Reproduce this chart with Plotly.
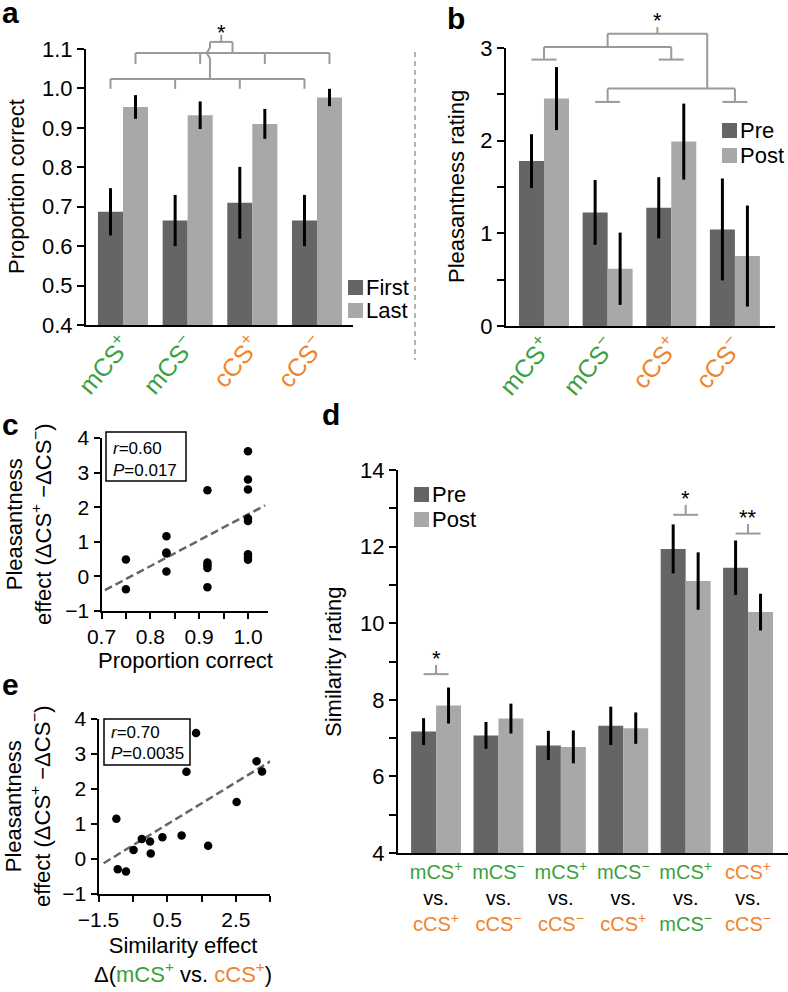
import plotly.graph_objects as go

W, H = 788, 992
FONT = "Liberation Sans, Arial, sans-serif"
DARK = "#656565"
LIGHT = "#a8a8a8"
GRAY = "#9a9a9a"
GREEN = "#3b9f3f"
ORANGE = "#f0832b"

# ---------------- data ----------------
a_cats = ["mCS+", "mCS-", "cCS+", "cCS-"]
a_first = [0.687, 0.665, 0.710, 0.665]
a_first_err = [0.060, 0.065, 0.091, 0.065]
a_last = [0.953, 0.932, 0.910, 0.977]
a_last_err = [0.030, 0.035, 0.038, 0.022]

b_pre = [1.78, 1.225, 1.276, 1.042]
b_pre_err = [0.29, 0.35, 0.33, 0.55]
b_post = [2.454, 0.618, 1.99, 0.755]
b_post_err = [0.34, 0.39, 0.41, 0.545]

c_x = [0.75, 0.75, 0.833, 0.833, 0.833, 0.833, 0.917, 0.917, 0.917, 0.917, 0.917,
       1.0, 1.0, 1.0, 1.0, 1.0, 1.0, 1.0, 1.0]
c_y = [0.49, -0.37, 1.16, 0.69, 0.66, 0.14, 2.49, 0.40, 0.32, 0.24, -0.31,
       3.62, 2.80, 2.51, 1.67, 1.60, 0.64, 0.56, 0.48]
c_fit_slope, c_fit_intercept = 7.47, -5.68
c_fit_span = [0.707, 1.035]

d_pre = [7.17, 7.07, 6.81, 7.32, 11.94, 11.45]
d_pre_err = [0.35, 0.35, 0.38, 0.50, 0.64, 0.71]
d_post = [7.85, 7.51, 6.77, 7.26, 11.10, 10.29]
d_post_err = [0.47, 0.39, 0.43, 0.41, 0.75, 0.48]

e_x = [-0.98, -0.94, -0.70, -0.48, -0.24, 0.0, 0.02, 0.36, 0.92, 1.06, 1.34, 1.69, 2.52, 3.10, 3.26]
e_y = [1.15, -0.29, -0.36, 0.26, 0.57, 0.50, 0.16, 0.62, 0.67, 2.49, 3.60, 0.38, 1.63, 2.79, 2.50]
e_fit_slope, e_fit_intercept = 0.60, 0.69
e_fit_span = [-1.35, 3.5]

# ---------------- helpers ----------------
def px(x):
    return x / W

def py(y):
    return 1 - y / H

def sp(color, txt):
    return f"<span style='color:{color}'>{txt}</span>"

def cs(prefix, sign, color):
    s = "+" if sign == "+" else "\u2212"
    return sp(color, f"{prefix}CS<sup>{s}</sup>")

tick_ab = [cs("m", "+", GREEN), cs("m", "-", GREEN), cs("c", "+", ORANGE), cs("c", "-", ORANGE)]
tick_d = [
    cs("m", "+", GREEN) + "<br>vs.<br>" + cs("c", "+", ORANGE),
    cs("m", "-", GREEN) + "<br>vs.<br>" + cs("c", "-", ORANGE),
    cs("m", "+", GREEN) + "<br>vs.<br>" + cs("c", "-", ORANGE),
    cs("m", "-", GREEN) + "<br>vs.<br>" + cs("c", "+", ORANGE),
    cs("m", "+", GREEN) + "<br>vs.<br>" + cs("m", "-", GREEN),
    cs("c", "+", ORANGE) + "<br>vs.<br>" + cs("c", "-", ORANGE),
]

fig = go.Figure()

def bars(xax, yax, vals, errs, color, w, first):
    fig.add_trace(go.Bar(
        x=list(range(len(vals))), y=vals, width=w, offset=-w if first else 0,
        marker=dict(color=color, line=dict(width=0)),
        error_y=dict(type="data", array=errs, color="black", thickness=3, width=0),
        xaxis=xax, yaxis=yax, showlegend=False, hoverinfo="skip"))

wa, wb, wd = 0.387, 0.393, 0.40
bars("x", "y", a_first, a_first_err, DARK, wa, True)
bars("x", "y", a_last, a_last_err, LIGHT, wa, False)
bars("x2", "y2", b_pre, b_pre_err, DARK, wb, True)
bars("x2", "y2", b_post, b_post_err, LIGHT, wb, False)
bars("x4", "y4", d_pre, d_pre_err, DARK, wd, True)
bars("x4", "y4", d_post, d_post_err, LIGHT, wd, False)

# scatter c
fig.add_trace(go.Scatter(x=c_fit_span, y=[c_fit_intercept + c_fit_slope * v for v in c_fit_span],
                         mode="lines", line=dict(color="#666666", width=2.5, dash="8px,4px"),
                         xaxis="x3", yaxis="y3", showlegend=False, hoverinfo="skip"))
fig.add_trace(go.Scatter(x=c_x, y=c_y, mode="markers", marker=dict(color="black", size=8.5),
                         xaxis="x3", yaxis="y3", showlegend=False, cliponaxis=False))
# scatter e
fig.add_trace(go.Scatter(x=e_fit_span, y=[e_fit_intercept + e_fit_slope * v for v in e_fit_span],
                         mode="lines", line=dict(color="#666666", width=2.5, dash="8px,4px"),
                         xaxis="x5", yaxis="y5", showlegend=False, hoverinfo="skip"))
fig.add_trace(go.Scatter(x=e_x, y=e_y, mode="markers", marker=dict(color="black", size=8.5),
                         xaxis="x5", yaxis="y5", showlegend=False, cliponaxis=False))

axfont = dict(family=FONT, size=22, color="black")
base_ax = dict(showline=True, linecolor="black", linewidth=2, showgrid=False, zeroline=False,
               tickfont=axfont, tickcolor="black", tickwidth=2, ticklen=7, automargin=False)
rot_font = dict(family=FONT, size=25, color="black")
sfont = dict(family=FONT, size=21, color="black")

def minor(vals, ln=7):
    return dict(tickmode="array", tickvals=vals, ticks="outside", ticklen=ln, tickwidth=2,
                tickcolor="black", showgrid=False)

A_RANGE = [0.4, 1.1]
B_RANGE = [0, 3]
D_RANGE = [4, 14]

fig.update_layout(
    template="none",
    width=W, height=H, margin=dict(l=0, r=0, t=0, b=0, autoexpand=False),
    paper_bgcolor="white", plot_bgcolor="rgba(0,0,0,0)",
    barmode="overlay", font=dict(family=FONT, color="black"),
    xaxis=dict(base_ax, domain=[px(86), px(353)], range=[-0.572, 3.557], anchor="y",
               tickvals=[0, 1, 2, 3], ticktext=tick_ab, tickangle=-50, ticks="",
               tickfont=rot_font, ticklabelstandoff=-7),
    yaxis=dict(base_ax, domain=[py(325), py(49)], range=A_RANGE, anchor="x",
               tickvals=[0.4, 0.5, 0.6, 0.7, 0.8, 0.9, 1.0, 1.1],
               ticktext=["0.4", "0.5", "0.6", "0.7", "0.8", "0.9", "1.0", "1.1"], ticks="outside"),
    xaxis2=dict(base_ax, domain=[px(506), px(775)], range=[-0.597, 3.63], anchor="y2",
                tickvals=[0, 1, 2, 3], ticktext=tick_ab, tickangle=-50, ticks="",
                tickfont=rot_font, ticklabelstandoff=-7),
    yaxis2=dict(base_ax, domain=[py(326), py(48)], range=B_RANGE, anchor="x2",
                tickvals=[0, 1, 2, 3], ticktext=["0", "1", "2", "3"], ticks="outside",
                minor=minor([0.5, 1.5, 2.5])),
    xaxis3=dict(base_ax, domain=[px(101.5), px(268)], range=[0.7, 1.041], anchor="y3",
                tickvals=[0.7, 0.8, 0.9, 1.0], ticktext=["0.7", "0.8", "0.9", "1.0"],
                ticks="outside", ticklen=6, tickfont=sfont, minor=minor([0.75, 0.85, 0.95], 6)),
    yaxis3=dict(base_ax, domain=[py(611), py(438)], range=[-1, 4], anchor="x3",
                tickvals=[-1, 0, 1, 2, 3, 4], ticktext=["\u22121", "0", "1", "2", "3", "4"],
                ticks="outside", ticklen=6, tickfont=sfont),
    xaxis4=dict(base_ax, domain=[px(398), 1.0], range=[-0.61, 5.64], anchor="y4",
                tickvals=[0, 1, 2, 3, 4, 5], ticktext=tick_d, ticks="",
                tickfont=dict(family=FONT, size=20, color="black")),
    yaxis4=dict(base_ax, domain=[py(853), py(470)], range=D_RANGE, anchor="x4",
                tickvals=[4, 6, 8, 10, 12, 14], ticktext=["4", "6", "8", "10", "12", "14"],
                ticks="outside", minor=minor([5, 7, 9, 11, 13])),
    xaxis5=dict(base_ax, domain=[px(98.5), px(270.3)], range=[-1.5, 3.5], anchor="y5",
                tickvals=[-1.5, 0.5, 2.5], ticktext=["\u22121.5", "0.5", "2.5"],
                ticks="outside", ticklen=6, tickfont=sfont, minor=minor([-0.5, 1.5, 3.5], 6)),
    yaxis5=dict(base_ax, domain=[py(894), py(719)], range=[-1, 4], anchor="x5",
                tickvals=[-1, 0, 1, 2, 3, 4], ticktext=["\u22121", "0", "1", "2", "3", "4"],
                ticks="outside", ticklen=6, tickfont=sfont),
)

shapes = []
annots = []

def yd(v, rng):
    return (v - rng[0]) / (rng[1] - rng[0])

def line(xax, yax, rng, x0, y0, x1, y1, color=GRAY, width=2):
    shapes.append(dict(type="line", xref=xax, yref=f"{yax} domain",
                       x0=x0, x1=x1, y0=yd(y0, rng), y1=yd(y1, rng),
                       line=dict(color=color, width=width)))

def star(xax, yax, rng, x, y, txt="*"):
    annots.append(dict(xref=xax, yref=f"{yax} domain", x=x, y=yd(y, rng), text=txt,
                       showarrow=False, font=dict(family=FONT, size=22, color="black"),
                       xanchor="center", yanchor="middle"))

# ---- panel a brackets ----
hw = wa / 2
dark_c = [i - hw for i in range(4)]
light_c = [i + hw for i in range(4)]
line("x", "y", A_RANGE, dark_c[0], 1.024, dark_c[3], 1.024)
for xc in dark_c:
    line("x", "y", A_RANGE, xc, 1.024, xc, 0.999)
line("x", "y", A_RANGE, light_c[0], 1.09, light_c[3], 1.09)
for xc in light_c:
    line("x", "y", A_RANGE, xc, 1.09, xc, 1.062)
lc = 1.345
uc = (light_c[0] + light_c[3]) / 2
path = (f"M {lc},{yd(1.024, A_RANGE)} L {lc},{yd(1.076, A_RANGE)} "
        f"L {lc - 0.05},{yd(1.09, A_RANGE)} L {lc},{yd(1.104, A_RANGE)} L {lc},{yd(1.118, A_RANGE)}")
shapes.append(dict(type="path", xref="x", yref="y domain", path=path, line=dict(color=GRAY, width=2)))
line("x", "y", A_RANGE, uc, 1.09, uc, 1.118)
line("x", "y", A_RANGE, lc, 1.118, uc, 1.118)
mid_a = (lc + uc) / 2
line("x", "y", A_RANGE, mid_a, 1.118, mid_a, 1.136)
star("x", "y", A_RANGE, mid_a, 1.143)

# ---- panel b brackets ----
hb = wb / 2
for g in (0, 2):
    line("x2", "y2", B_RANGE, g - hb, 2.875, g + hb, 2.875)
    line("x2", "y2", B_RANGE, g, 2.875, g, 3.01)
line("x2", "y2", B_RANGE, 0, 3.01, 2, 3.01)
line("x2", "y2", B_RANGE, 1, 3.01, 1, 3.155)
line("x2", "y2", B_RANGE, 1, 3.155, 2.565, 3.155)
line("x2", "y2", B_RANGE, 2.565, 3.155, 2.565, 2.562)
line("x2", "y2", B_RANGE, 1, 2.562, 3, 2.562)
for g in (1, 3):
    line("x2", "y2", B_RANGE, g, 2.562, g, 2.418)
    line("x2", "y2", B_RANGE, g - hb, 2.418, g + hb, 2.418)
mid_b = (1 + 2.565) / 2
line("x2", "y2", B_RANGE, mid_b, 3.155, mid_b, 3.227)
star("x2", "y2", B_RANGE, mid_b, 3.30)

# ---- panel d brackets ----
hd = wd / 2
for g, yb, yt, ys, s in [(0, 8.67, 8.91, 9.08, "*"), (4, 12.83, 13.09, 13.26, "*"), (5, 12.34, 12.59, 12.76, "**")]:
    line("x4", "y4", D_RANGE, g - hd, yb, g + hd, yb)
    line("x4", "y4", D_RANGE, g, yb, g, yt)
    star("x4", "y4", D_RANGE, g, ys, s)

# ---- separator ----
shapes.append(dict(type="line", xref="paper", yref="paper", x0=px(415), x1=px(415), y0=py(52), y1=py(360),
                   line=dict(color=GRAY, width=1.5, dash="5px,4px")))

# ---- manual legends ----
def legend_item(x, ytop, color, label):
    shapes.append(dict(type="rect", xref="paper", yref="paper", x0=px(x), x1=px(x + 15),
                       y0=py(ytop + 15), y1=py(ytop), fillcolor=color, line=dict(width=0)))
    annots.append(dict(xref="paper", yref="paper", x=px(x + 16), y=py(ytop + 7.5), text=label,
                       showarrow=False, xanchor="left", yanchor="middle",
                       font=dict(family=FONT, size=22, color="black")))

legend_item(348, 280, DARK, "First")
legend_item(348, 303, LIGHT, "Last")
legend_item(722, 123, DARK, "Pre")
legend_item(722, 148, LIGHT, "Post")
legend_item(414, 487, DARK, "Pre")
legend_item(414, 512, LIGHT, "Post")

# ---- stats boxes ----
def statbox(x0, y0, x1, y1, lines):
    shapes.append(dict(type="rect", xref="paper", yref="paper", x0=px(x0), x1=px(x1),
                       y0=py(y1), y1=py(y0), line=dict(color="black", width=1.5), fillcolor="white"))
    for (ty, txt) in lines:
        annots.append(dict(xref="paper", yref="paper", x=px(x0 + 5), y=py(ty), text=txt,
                           showarrow=False, xanchor="left", yanchor="middle",
                           font=dict(family=FONT, size=17, color="black")))

statbox(106, 432, 186, 481, [(448, "<i>r</i>=0.60"), (470, "<i>P</i>=0.017")])
statbox(104, 719, 190, 765, [(732, "<i>r</i>=0.70"), (753, "<i>P</i>=0.0035")])

# ---- axis titles ----
def title(x, y, txt, angle=0, size=22):
    annots.append(dict(xref="paper", yref="paper", x=px(x), y=py(y), text=txt, showarrow=False,
                       textangle=angle, xanchor="center", yanchor="middle",
                       font=dict(family=FONT, size=size, color="black")))

title(17, 187, "Proportion correct", -90)
title(457, 187, "Pleasantness rating", -90)
title(333, 662, "Similarity rating", -90)
pl = "Pleasantness<br>effect (\u0394CS<sup>+</sup> \u2212\u0394CS<sup>\u2212</sup>)"
title(29, 524, pl, -90)
title(28, 806, pl, -90)
title(185, 660, "Proportion correct")
title(183, 960, "Similarity effect<br>\u0394(" + sp(GREEN, "mCS<sup>+</sup>") + " vs. " + sp(ORANGE, "cCS<sup>+</sup>") + ")")

# ---- panel letters ----
for (x, y, t) in [(10, 13, "a"), (456, 18, "b"), (10, 424, "c"), (331, 414, "d"), (10, 684, "e")]:
    annots.append(dict(xref="paper", yref="paper", x=px(x), y=py(y), text=f"<b>{t}</b>",
                       showarrow=False, xanchor="center", yanchor="middle",
                       font=dict(family=FONT, size=30, color="black")))

fig.update_layout(shapes=shapes, annotations=annots)
fig.write_html("out.html", config={"displayModeBar": False},
               post_script="document.documentElement.style.margin='0';document.body.style.margin='0';"
                           "document.body.style.overflow='hidden';")
